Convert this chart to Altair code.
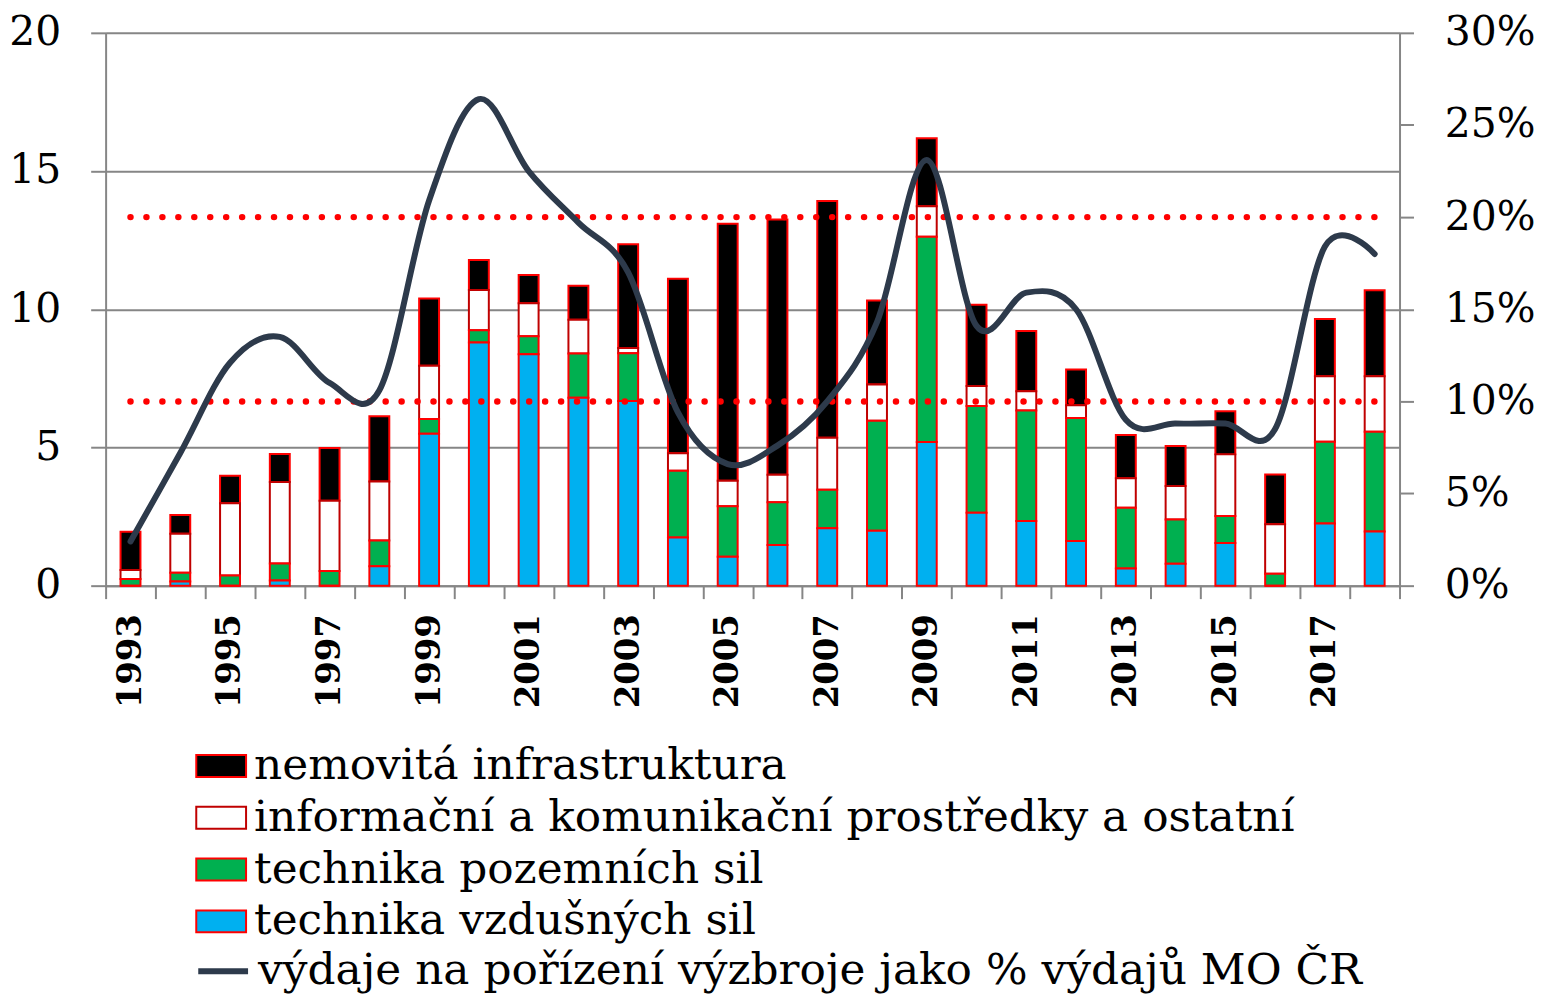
import altair as alt
import pandas as pd

years = [1993, 1994, 1995, 1996, 1997, 1998, 1999, 2000, 2001, 2002, 2003, 2004, 2005,
         2006, 2007, 2008, 2009, 2010, 2011, 2012, 2013, 2014, 2015, 2016, 2017, 2018]

vzdusne = [0.00, 0.15, 0.00, 0.19, 0.00, 0.70, 5.50, 8.80, 8.37, 6.80, 6.68, 1.74, 1.05,
           1.47, 2.08, 1.99, 5.20, 2.64, 2.34, 1.62, 0.62, 0.79, 1.54, 0.00, 2.25, 1.96]
pozemni = [0.24, 0.32, 0.37, 0.61, 0.53, 0.93, 0.53, 0.44, 0.65, 1.60, 1.73, 2.42, 1.82,
           1.55, 1.39, 3.98, 7.42, 3.86, 4.00, 4.45, 2.20, 1.60, 0.98, 0.43, 2.96, 3.61]
info = [0.33, 1.41, 2.61, 2.95, 2.54, 2.14, 1.93, 1.46, 1.20, 1.22, 0.19, 0.63, 0.93,
        0.99, 1.88, 1.31, 1.11, 0.72, 0.69, 0.46, 1.07, 1.22, 2.23, 1.79, 2.37, 2.01]
infra = [1.38, 0.68, 1.00, 1.01, 1.91, 2.36, 2.43, 1.08, 1.02, 1.23, 3.75, 6.31, 9.29,
         9.24, 8.57, 3.04, 2.46, 2.94, 2.18, 1.29, 1.56, 1.44, 1.56, 1.80, 2.07, 3.11]

podil = [2.4, 7.2, 12.1, 13.5, 11.0, 10.6, 20.9, 26.4, 22.5, 19.7, 17.0, 9.4, 6.6,
         7.6, 10.0, 14.3, 23.1, 14.1, 15.9, 15.0, 9.0, 8.8, 8.8, 8.5, 18.4, 18.0]

limity = [10, 20]

cats = ["nemovitá infrastruktura",
        "informační a komunikační prostředky a ostatní",
        "technika pozemních sil",
        "technika vzdušných sil"]
line_name = "výdaje na pořízení výzbroje jako % výdajů MO ČR"

series = [(cats[0], infra, 3), (cats[1], info, 2), (cats[2], pozemni, 1), (cats[3], vzdusne, 0)]
bar_rows = []
for i, y in enumerate(years):
    for name, vals, o in series:
        bar_rows.append({"year": str(y), "cat": name, "value": vals[i], "ord": o})
bar_df = pd.DataFrame(bar_rows)

line_df = pd.DataFrame({"year": [str(y) for y in years],
                        "pct": [p / 100 for p in podil],
                        "s": [line_name] * len(years)})

dot_rows = []
for lv in limity:
    for y in (years[0], years[-1]):
        dot_rows.append({"year": str(y), "pct": lv / 100, "lvl": str(lv)})
dot_df = pd.DataFrame(dot_rows)

FONT = "DejaVu Serif"
GRAY = "#868686"
LEG_X = 90
LEG_Y = 710
ROW = 51.5

xenc = alt.X("year:O",
             scale=alt.Scale(paddingInner=0, paddingOuter=0),
             axis=alt.Axis(title=None, labelAngle=270, labelFont=FONT, labelFontSize=34,
                           labelFontWeight="bold", labelColor="black", labelPadding=15,
                           tickSize=13, tickBand="extent", tickColor=GRAY, tickWidth=2,
                           domainColor=GRAY, domainWidth=2, grid=False,
                           labelExpr="toNumber(datum.value) % 2 == 1 ? datum.label : ''"))

leg = dict(title=None, orient="none", legendX=LEG_X, legendY=LEG_Y, direction="vertical",
           symbolType="M-1,-0.44H1V0.44H-1Z", symbolSize=2500, symbolStrokeWidth=2,
           labelFont=FONT, labelFontSize=44, labelColor="black", labelLimit=2000,
           labelOffset=7, rowPadding=4, padding=0)

bars = alt.Chart(bar_df).mark_bar(size=20, strokeWidth=2).encode(
    x=xenc,
    y=alt.Y("value:Q", stack="zero",
            scale=alt.Scale(domain=[0, 20], nice=False),
            axis=alt.Axis(orient="left", title=None, values=[0, 5, 10, 15, 20],
                          labelFont=FONT, labelFontSize=41, labelColor="black",
                          labelPadding=30, tickSize=15, tickColor=GRAY, tickWidth=2,
                          domainColor=GRAY, domainWidth=2, grid=True, gridColor=GRAY,
                          gridWidth=2)),
    fill=alt.Fill("cat:N", scale=alt.Scale(domain=cats,
                                           range=["#000000", "#FFFFFF", "#00B050", "#00B0F0"]),
                  legend=alt.Legend(**leg)),
    stroke=alt.Stroke("cat:N", scale=alt.Scale(domain=cats,
                                               range=["#FF0000", "#C00000", "#FF0000", "#FF0000"]),
                      legend=alt.Legend(**leg)),
    order=alt.Order("ord:Q"),
)

yright = alt.Scale(domain=[0, 0.3], nice=False)
raxis = alt.Axis(orient="right", title=None, format=".0%",
                 values=[0, 0.05, 0.1, 0.15, 0.2, 0.25, 0.3],
                 labelFont=FONT, labelFontSize=41, labelColor="black",
                 labelPadding=31, tickSize=14, tickColor=GRAY, tickWidth=2,
                 domainColor=GRAY, domainWidth=2, grid=False)

dots = alt.Chart(dot_df).mark_line(color="#FF0000", strokeWidth=6.5, strokeCap="round",
                                   strokeDash=[0.01, 16]).encode(
    x=alt.X("year:O"),
    y=alt.Y("pct:Q", scale=yright, axis=raxis),
    detail="lvl:N",
)

line = alt.Chart(line_df).mark_line(strokeWidth=6, interpolate="cardinal",
                                    strokeCap="round", strokeJoin="round").encode(
    x=alt.X("year:O"),
    y=alt.Y("pct:Q", scale=yright, axis=raxis),
    color=alt.Color("s:N", scale=alt.Scale(domain=[line_name], range=["#2D3A4B"]),
                    legend=alt.Legend(title=None, orient="none", legendX=LEG_X,
                                      legendY=LEG_Y + 4 * ROW - 2, symbolType="stroke",
                                      symbolSize=2500, symbolStrokeWidth=6,
                                      labelFont=FONT, labelFontSize=44, labelColor="black",
                                      labelLimit=2000, labelOffset=7, padding=0)),
)

chart = alt.layer(bars, alt.layer(dots, line)).resolve_scale(y="independent").properties(
    width=1299, height=555,
    padding={"left": 0, "top": 2, "right": 0, "bottom": 0},
    background="white",
).configure_view(stroke=None)

chart.save("out.html", embed_options={"renderer": "svg", "actions": False})
